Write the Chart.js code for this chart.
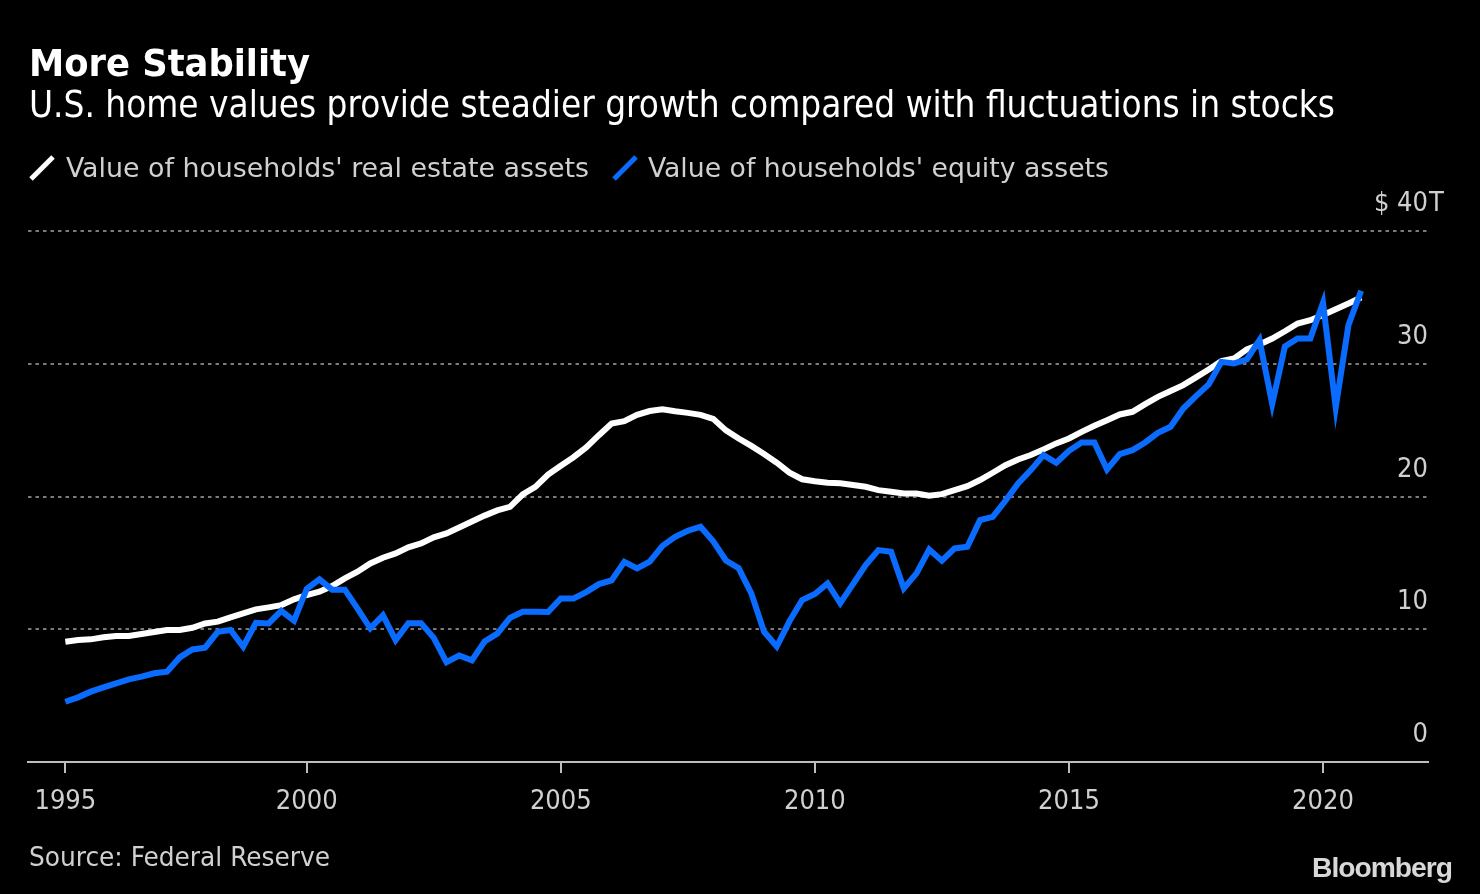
<!DOCTYPE html>
<html><head><meta charset="utf-8">
<script src="https://cdn.jsdelivr.net/npm/chart.js@4.4.1/dist/chart.umd.min.js"></script>
<style>
html,body{margin:0;padding:0;background:#000;width:1480px;height:894px;overflow:hidden;}
#wrap{position:relative;width:1480px;height:894px;background:#000;}
#c{position:absolute;left:0;top:0;}
.t{position:absolute;white-space:nowrap;transform-origin:0 0;margin:0;padding:0;}
svg.ic{position:absolute;}
</style></head><body>
<div id="wrap">
<canvas id="c" width="1480" height="894"></canvas>
<div class="t" id="title"></div>
<div class="t" id="subtitle"></div>
<svg class="ic" id="ic1" width="30" height="30" style="left:27px;top:153px"><line x1="4" y1="26" x2="26" y2="4" stroke="#ffffff" stroke-width="5"/></svg>
<div class="t" id="leg1"></div>
<svg class="ic" id="ic2" width="30" height="30" style="left:610px;top:153px"><line x1="4" y1="26" x2="26" y2="4" stroke="#0a6cff" stroke-width="5"/></svg>
<div class="t" id="leg2"></div>
<div class="t" id="source"></div>
<div class="t" id="logo"></div>
</div>
<script>
// ---------- DATA ----------
const titleText = "More Stability";
const subtitleText = "U.S. home values provide steadier growth compared with fluctuations in stocks";
const seriesNames = ["Value of households' real estate assets", "Value of households' equity assets"];
const sourceText = "Source: Federal Reserve";

// Quarterly observations, 1995 Q1 through 2020 Q3
const quarters = [];
for (let y = 1995; y <= 2020; y++) for (let q = 1; q <= 4; q++) { if (y === 2020 && q > 3) break; quarters.push(y + "-Q" + q); }

// Trillions of dollars
const realEstate = [
 9.06, 9.19, 9.24, 9.39, 9.49, 9.49, 9.64, 9.79, 9.94, 9.94,
 10.11, 10.44, 10.57, 10.9, 11.2, 11.5, 11.65, 11.82, 12.25, 12.58,
 12.83, 13.25, 13.83, 14.33, 14.96, 15.39, 15.71, 16.17, 16.47, 16.92,
 17.22, 17.67, 18.12, 18.56, 18.95, 19.22, 20.15, 20.72, 21.65, 22.32,
 22.96, 23.7, 24.62, 25.5, 25.68, 26.15, 26.44, 26.57, 26.42, 26.3,
 26.15, 25.85, 24.98, 24.37, 23.81, 23.2, 22.55, 21.8, 21.3, 21.15,
 21.03, 21.0, 20.86, 20.73, 20.48, 20.36, 20.23, 20.23, 20.06, 20.18,
 20.48, 20.78, 21.24, 21.79, 22.36, 22.79, 23.12, 23.55, 24.0, 24.37,
 24.87, 25.33, 25.75, 26.18, 26.38, 26.96, 27.51, 27.94, 28.39, 28.97,
 29.57, 30.2, 30.4, 31.08, 31.45, 31.9, 32.45, 33.03, 33.28, 33.68,
 34.1, 34.54, 34.99
];
const equities = [
 4.54, 4.87, 5.30, 5.62, 5.92, 6.22, 6.43, 6.68, 6.80, 7.88,
 8.48, 8.61, 9.81, 9.94, 8.68, 10.49, 10.44, 11.39, 10.64, 13.04,
 13.76, 12.98, 12.98, 11.55, 10.07, 11.05, 9.19, 10.46, 10.46, 9.35,
 7.52, 8.02, 7.66, 9.08, 9.67, 10.86, 11.32, 11.32, 11.3, 12.32,
 12.32, 12.8, 13.40, 13.68, 15.08, 14.58, 15.1, 16.28, 16.97, 17.42,
 17.72, 16.63, 15.18, 14.6, 12.70, 9.81, 8.7, 10.6, 12.2, 12.65,
 13.45, 11.97, 13.40, 14.83, 15.96, 15.84, 13.08, 14.21, 16.01, 15.16,
 16.09, 16.21, 18.22, 18.47, 19.68, 20.98, 21.99, 23.12, 22.54, 23.44,
 24.07, 24.07, 22.04, 23.19, 23.49, 24.07, 24.8, 25.25, 26.63, 27.56,
 28.44, 30.14, 30.02, 30.32, 31.78, 26.98, 31.3, 31.9, 31.9, 34.59,
 26.7, 32.9, 35.5
];

const xTickValues = [1995.25, 2000, 2005, 2010, 2015, 2020];
const xTickLabels = ["1995", "2000", "2005", "2010", "2015", "2020"];
const yTickValues = [0, 10, 20, 30, 40];
const yTickLabels = ["0", "10", "20", "30", "$ 40"];
const yTopSuffix = "T";

// ---------- HELPERS ----------
function quarterToYear(s) { const [y, q] = s.split("-Q"); return +y + (+q) * 0.25; }

const mctx = document.createElement('canvas').getContext('2d');
function available(f) {
  const probe = 'abcdefghijklmnopqrstuvwxyz 1995 ABC';
  for (const fb of ['monospace', 'serif']) {
    mctx.font = '40px "' + f + '", ' + fb; const a = mctx.measureText(probe).width;
    mctx.font = '40px ' + fb; const b = mctx.measureText(probe).width;
    if (Math.abs(a - b) > 0.5) return true;
  }
  return false;
}
const FAM = ['DejaVu Sans Condensed', 'Liberation Sans Narrow', 'DejaVu Sans'].find(available) || 'DejaVu Sans';
const FONT = '"' + FAM + '", "DejaVu Sans", sans-serif';

function place(id, text, o) {
  const el = document.getElementById(id);
  el.textContent = text;
  const fam = o.family || FONT;
  const font = (o.weight || 'normal') + ' ' + o.size + 'px ' + fam;
  el.style.font = font;
  el.style.lineHeight = o.size + 'px';
  el.style.color = o.color;
  if (o.ls) el.style.letterSpacing = o.ls + 'px';
  mctx.font = font;
  if (o.ls) mctx.letterSpacing = o.ls + 'px'; else mctx.letterSpacing = '0px';
  const m = mctx.measureText(text);
  const asc = m.fontBoundingBoxAscent, desc = m.fontBoundingBoxDescent;
  const base = (o.size - (asc + desc)) / 2 + asc;
  el.style.left = o.left + 'px';
  el.style.top = (o.baseline - base) + 'px';
  const w = el.getBoundingClientRect().width || m.width;
  el.style.transform = 'scaleX(' + (o.width / w) + ')';
}

place('title', titleText, {weight: 'bold', size: 38, color: '#ffffff', left: 29, baseline: 76, width: 281});
place('subtitle', subtitleText, {size: 38, color: '#ffffff', left: 29, baseline: 117, width: 1306});
place('leg1', seriesNames[0], {size: 27, color: '#d0d0d0', left: 66, baseline: 177, width: 523});
place('leg2', seriesNames[1], {size: 27, color: '#d0d0d0', left: 648, baseline: 177, width: 461});
place('source', sourceText, {size: 27, color: '#d0d0d0', left: 29, baseline: 866, width: 301});
place('logo', 'Bloomberg', {weight: 'bold', size: 28, color: '#d8d8d8', left: 1312, baseline: 877, width: 140, family: '"Liberation Sans", Arial, sans-serif', ls: -1});

// ---------- CHART ----------
const xs = quarters.map(quarterToYear);
const suffixPlugin = {
  id: 'suffix',
  afterDraw(chart) {
    const s = chart.scales.y; const c = chart.ctx;
    const top = yTickValues[yTickValues.length - 1];
    c.save();
    c.font = '27px ' + FONT; c.fillStyle = '#d0d0d0';
    c.textBaseline = 'middle'; c.textAlign = 'left';
    c.fillText(yTopSuffix, s.left + 1, s.getPixelForValue(top) - 27);
    c.restore();
  }
};

new Chart(document.getElementById('c'), {
  type: 'line',
  data: {
    datasets: [
      {label: seriesNames[0], data: xs.map((x, i) => ({x, y: realEstate[i]})), borderColor: '#ffffff', borderWidth: 6, pointRadius: 0, tension: 0, order: 2, borderJoinStyle: 'miter'},
      {label: seriesNames[1], data: xs.map((x, i) => ({x, y: equities[i]})), borderColor: '#0a6cff', borderWidth: 6, pointRadius: 0, tension: 0, order: 1, borderJoinStyle: 'miter'}
    ]
  },
  options: {
    responsive: false, animation: false, devicePixelRatio: 1,
    layout: {padding: {left: 28, right: 52, top: 231, bottom: 72}},
    plugins: {legend: {display: false}, tooltip: {enabled: false}},
    scales: {
      x: {
        type: 'linear', min: 1994.515, max: 2022.066,
        afterFit(s) { s.height = 60; },
        afterBuildTicks(s) { s.ticks = xTickValues.map(v => ({value: v})); },
        ticks: {callback: (v, i) => xTickLabels[i], color: '#d0d0d0', font: {family: FONT, size: 27}, padding: 13, maxRotation: 0, autoSkip: false},
        grid: {drawOnChartArea: false, drawTicks: true, tickLength: 11, color: '#bdbdbd', lineWidth: 2},
        border: {display: true, color: '#bdbdbd', width: 2}
      },
      y: {
        position: 'right', min: 0, max: 40,
        afterFit(s) { s.width = 0; },
        afterBuildTicks(s) { s.ticks = yTickValues.map(v => ({value: v})); },
        ticks: {mirror: true, padding: 0, labelOffset: -27, color: '#d0d0d0', font: {family: FONT, size: 27}, callback: (v, i) => yTickLabels[i]},
        grid: {color: c => c.tick && c.tick.value === 0 ? 'rgba(0,0,0,0)' : '#7a7a7a', lineWidth: 2, drawTicks: false},
        border: {display: false, dash: [3.5, 4]}
      }
    }
  },
  plugins: [suffixPlugin]
});
</script>
</body></html>
